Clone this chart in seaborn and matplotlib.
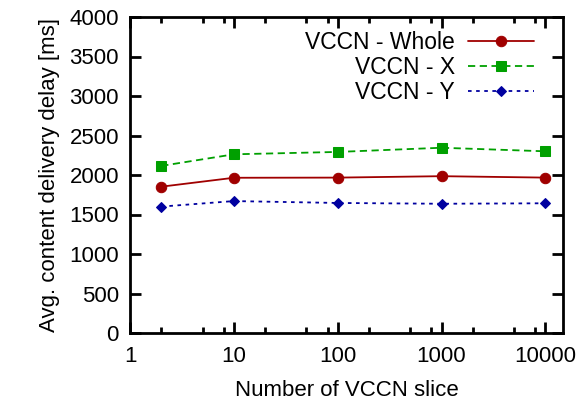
import matplotlib
matplotlib.use("Agg")
import matplotlib.pyplot as plt
import seaborn as sns
import pandas as pd
import numpy as np
from matplotlib.ticker import FixedLocator, FixedFormatter, NullFormatter

slices = [2, 10, 100, 1000, 10000]
whole = [1852, 1965, 1967, 1985, 1967]
vx = [2115, 2262, 2292, 2345, 2300]
vy = [1600, 1670, 1646, 1636, 1642]
series_names = ["VCCN - Whole", "VCCN - X", "VCCN - Y"]
x_ticks = [1, 10, 100, 1000, 10000]
x_tick_labels = ["1", "10", "100", "1000", "10000"]
y_ticks = [0, 500, 1000, 1500, 2000, 2500, 3000, 3500, 4000]

sns.set_style("white")
plt.rcParams['font.family'] = ['Liberation Sans', 'DejaVu Sans']
plt.rcParams['text.color'] = 'black'
plt.rcParams['axes.labelcolor'] = 'black'
plt.rcParams['xtick.color'] = 'black'
plt.rcParams['ytick.color'] = 'black'

df = pd.DataFrame({
    "x": slices * 3,
    "y": whole + vx + vy,
    "series": [series_names[0]] * 5 + [series_names[1]] * 5 + [series_names[2]] * 5,
})

fig = plt.figure(figsize=(5.8, 4.05), dpi=100)
ax = fig.add_axes([130/580, 1 - 333/405, (563-130)/580, (333-17)/405])

styles = {
    series_names[0]: dict(color="#a00000", linestyle="-", marker="o", markersize=7.5),
    series_names[1]: dict(color="#00a000", linestyle=(0, (4, 2.5)), marker="s", markersize=7.5),
    series_names[2]: dict(color="#0000a0", linestyle=(0, (2, 2.5)), marker="D", markersize=5),
}
for name in series_names:
    st = styles[name]
    sub = df[df["series"] == name]
    sns.lineplot(data=sub, x="x", y="y", ax=ax, label=name, color=st["color"],
                 linestyle=st["linestyle"], marker=st["marker"], markersize=st["markersize"],
                 markeredgecolor=st["color"], linewidth=1.3)

ax.set_xscale("log")
ax.set_xlim(1, 10 ** 4.17)
ax.set_ylim(0, 4000)
ax.xaxis.set_major_locator(FixedLocator(x_ticks))
ax.xaxis.set_major_formatter(FixedFormatter(x_tick_labels))
minors = [m * 10 ** d for d in range(0, 5) for m in (2, 5, 8) if m * 10 ** d < 10 ** 4.17]
ax.xaxis.set_minor_locator(FixedLocator(minors))
ax.xaxis.set_minor_formatter(NullFormatter())
ax.set_yticks(y_ticks)
ax.set_yticklabels([str(v) for v in y_ticks])

for s in ax.spines.values():
    s.set_linewidth(2)
    s.set_color("black")
ax.tick_params(which="both", direction="in", top=True, right=True, bottom=True, left=True,
               labelsize=16, width=2, colors="black", labelcolor="black")
ax.tick_params(axis="y", pad=8)
ax.tick_params(axis="x", pad=9)
ax.tick_params(which="major", length=8)
ax.tick_params(which="minor", length=4)

ax.set_xlabel("Number of VCCN slice", fontsize=16, labelpad=10, color="black")
ax.set_ylabel("Avg. content delivery delay [ms]", fontsize=16, labelpad=7, color="black")

leg = ax.legend(loc="upper right", frameon=False, markerfirst=False, fontsize=16.5,
                handlelength=2.9, handletextpad=0.55, labelspacing=0.1, borderaxespad=0.2,
                bbox_to_anchor=(0.965, 1.0))
for t in leg.get_texts():
    t.set_ha("right")
    t.set_color("black")
leg._legend_box.align = "right"

fig.savefig("out.png", dpi=100)
